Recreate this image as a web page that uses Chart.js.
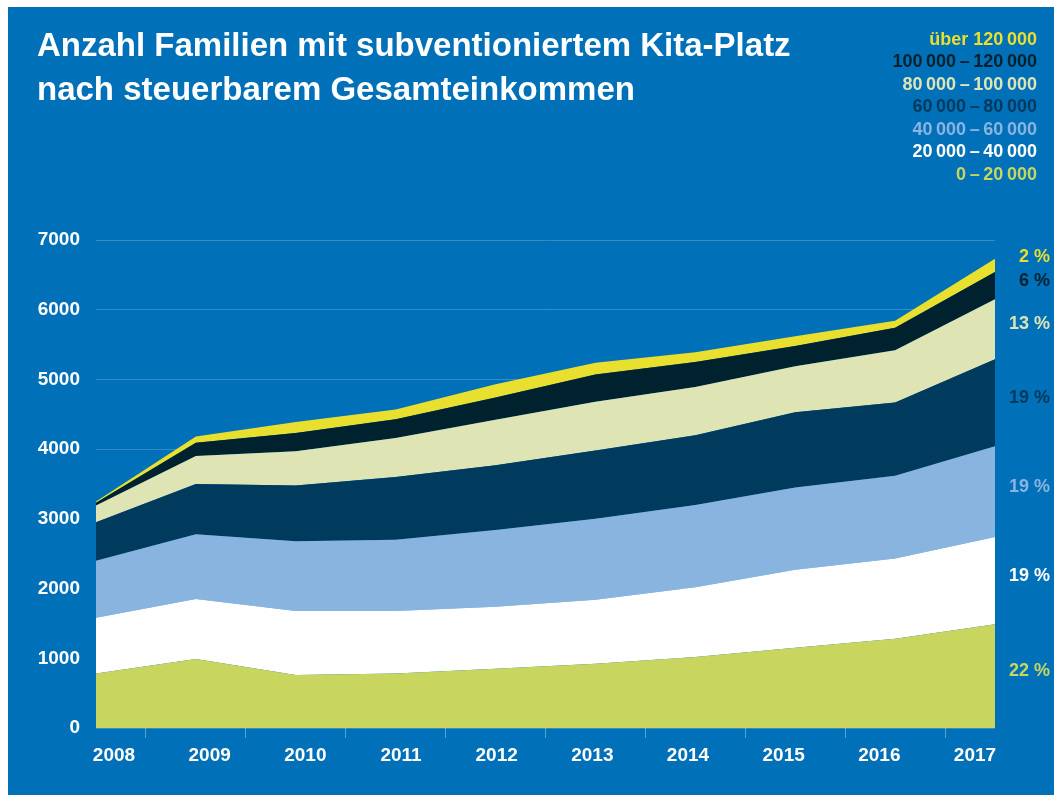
<!DOCTYPE html>
<html>
<head>
<meta charset="utf-8">
<script src="https://cdn.jsdelivr.net/npm/chart.js@4"></script>
<style>
  html, body { margin: 0; padding: 0; background: #fff; }
  #panel { position: absolute; left: 8px; top: 7px; width: 1046px; height: 788px; background: #0070b8; }
  canvas { display: block; }
</style>
</head>
<body>
<div id="panel"><canvas id="kitaChart" width="1046" height="788"></canvas></div>
<script>
const years = ['2008', '2009', '2010', '2011', '2012', '2013', '2014', '2015', '2016', '2017'];

// families per income class (CHF), bottom band first
const inc0to20 = [780, 990, 760, 780, 850, 920, 1020, 1150, 1280, 1490];
const inc20to40 = [800, 860, 920, 900, 890, 920, 1000, 1120, 1150, 1250];
const inc40to60 = [820, 930, 1000, 1020, 1100, 1160, 1180, 1180, 1190, 1300];
const inc60to80 = [550, 720, 800, 900, 930, 980, 1000, 1080, 1050, 1250];
const inc80to100 = [240, 400, 490, 560, 650, 700, 690, 660, 750, 860];
const inc100to120 = [40, 190, 260, 270, 320, 390, 360, 290, 320, 390];
const incOver120 = [20, 90, 160, 140, 190, 170, 140, 140, 100, 190];

const DASH = '\u2009\u2013\u2009';
const seriesLabels = [
    '0' + DASH + '20\u2009000',
    '20\u2009000' + DASH + '40\u2009000',
    '40\u2009000' + DASH + '60\u2009000',
    '60\u2009000' + DASH + '80\u2009000',
    '80\u2009000' + DASH + '100\u2009000',
    '100\u2009000' + DASH + '120\u2009000',
    '\u00fcber 120\u2009000'
];
const shares2017 = ['22 %', '19 %', '19 %', '19 %', '13 %', '6 %', '2 %'];
const titleLines = ['Anzahl Familien mit subventioniertem Kita-Platz', 'nach steuerbarem Gesamteinkommen'];

const colors = ['#c8d65f', '#ffffff', '#8ab4e0', '#003a5d', '#dfe4b4', '#00222e', '#e8df2e'];
const values = [inc0to20, inc20to40, inc40to60, inc60to80, inc80to100, inc100to120, incOver120];

const FONT = '"Liberation Sans", Arial, Helvetica, sans-serif';

const textPlugin = {
    id: 'kitaText',
    afterDraw(chart) {
        const ctx = chart.ctx;
        ctx.save();

        // title
        ctx.fillStyle = '#ffffff';
        ctx.font = 'bold 33px ' + FONT;
        ctx.textAlign = 'left';
        ctx.textBaseline = 'alphabetic';
        titleLines.forEach((t, i) => ctx.fillText(t, 29, 49 + i * 44));

        // legend, top band first
        ctx.font = 'bold 18px ' + FONT;
        ctx.textAlign = 'right';
        ctx.textBaseline = 'middle';
        let row = 0;
        for (let i = chart.data.datasets.length - 1; i >= 0; i--) {
            ctx.fillStyle = colors[i];
            ctx.fillText(chart.data.datasets[i].label, 1029, 33 + row * 22.5);
            row++;
        }

        // shares at the right end, placed at band middles
        const y = chart.scales.y;
        const last = years.length - 1;
        let base = 0;
        let prevY = Infinity;
        values.forEach((arr, i) => {
            const mid = base + arr[last] / 2;
            base += arr[last];
            let py = y.getPixelForValue(mid) - 5;
            if (py > prevY - 24) py = prevY - 24;
            prevY = py;
            ctx.fillStyle = colors[i];
            ctx.fillText(shares2017[i], 1042, py);
        });
        ctx.restore();
    }
};

const tickFont = { family: FONT, size: 19, weight: 'bold' };

const ctx = document.getElementById('kitaChart').getContext('2d');
const kitaChart = new Chart(ctx, {
    type: 'line',
    data: {
        labels: years,
        datasets: values.map((arr, i) => ({
            label: seriesLabels[i],
            data: arr,
            backgroundColor: colors[i],
            borderColor: 'transparent',
            borderWidth: 0,
            pointRadius: 0,
            tension: 0,
            fill: i === 0 ? 'origin' : '-1'
        }))
    },
    options: {
        responsive: false,
        animation: false,
        layout: { padding: { top: 233, right: 59, left: 0, bottom: 0 } },
        plugins: {
            legend: { display: false },
            tooltip: { enabled: false }
        },
        scales: {
            x: {
                type: 'category',
                offset: false,
                weight: 0,
                border: { display: false },
                grid: {
                    offset: true,
                    drawOnChartArea: false,
                    drawTicks: true,
                    tickLength: 10,
                    color: 'rgba(255,255,255,0.35)'
                },
                ticks: { display: false }
            },
            // year labels sit a bit inside the first and last data points
            xl: {
                type: 'linear',
                axis: 'x',
                position: 'bottom',
                weight: 1,
                min: 2007.812,
                max: 2017.209,
                border: { display: false },
                grid: { display: false, drawTicks: false },
                ticks: {
                    stepSize: 1,
                    includeBounds: false,
                    maxTicksLimit: 20,
                    padding: 6,
                    color: '#ffffff',
                    font: tickFont,
                    maxRotation: 0,
                    callback: (v) => years[Math.round(v) - 2008]
                },
                afterFit(scale) { scale.height = 57; }
            },
            y: {
                stacked: true,
                min: 0,
                max: 7000,
                border: { display: false },
                grid: { color: 'rgba(255,255,255,0.2)', drawTicks: false },
                ticks: {
                    stepSize: 1000,
                    padding: 16,
                    color: '#ffffff',
                    font: tickFont,
                    callback: (v) => String(v)
                },
                afterFit(scale) { scale.width = 88; }
            }
        }
    },
    plugins: [textPlugin]
});
</script>
</body>
</html>
